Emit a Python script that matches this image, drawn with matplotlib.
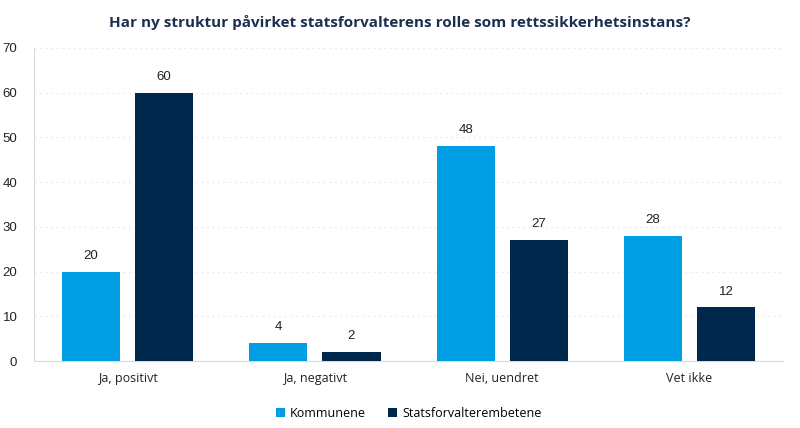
import matplotlib.pyplot as plt
import numpy as np

categories = ["Ja, positivt", "Ja, negativt", "Nei, uendret", "Vet ikke"]
kommunene = [20, 4, 48, 28]
statsforvalter = [60, 2, 27, 12]
series_names = ["Kommunene", "Statsforvalterembetene"]

light = "#009fe3"
dark = "#00284d"

fig = plt.figure(figsize=(8, 4.28), dpi=100)
ax = fig.add_axes([0.0425, 0.1565, 0.9365, 0.7315])

x = np.arange(len(categories))
w = 0.31
off = 0.195
b1 = ax.bar(x - off, kommunene, w, color=light, label=series_names[0], zorder=3)
b2 = ax.bar(x + off, statsforvalter, w, color=dark, label=series_names[1], zorder=3)

for bars in (b1, b2):
    for r in bars:
        ax.text(r.get_x() + r.get_width() / 2, r.get_height() + 2.2, f"{r.get_height():g}",
                ha="center", va="bottom", fontsize=9.5, family="Liberation Sans", color="#222222")

ax.set_xlim(-0.5, len(categories) - 0.5)
ax.set_ylim(0, 70)
ax.set_yticks(range(0, 71, 10))
ax.set_xticks(x)
ax.set_xticklabels(categories, family="Open Sans", fontsize=9, color="#222222")
for t in ax.get_yticklabels():
    t.set_family("Liberation Sans")
    t.set_fontsize(9.5)
    t.set_color("#222222")
ax.tick_params(length=0)
ax.tick_params(axis="y", pad=12)
ax.tick_params(axis="x", pad=8)
ax.yaxis.grid(True, linestyle=(0, (2, 3)), color="#ececec", linewidth=0.8, zorder=0)
for s in ("top", "right"):
    ax.spines[s].set_visible(False)
for s in ("left", "bottom"):
    ax.spines[s].set_color("#d9d9d9")

fig.suptitle("Har ny struktur påvirket statsforvalterens rolle som rettssikkerhetsinstans?",
             x=0.5, y=0.965, fontsize=11, fontweight="bold", color="#1b2f4f", family="Open Sans")

ax.legend(loc="upper center", bbox_to_anchor=(0.5, -0.11), ncol=2, frameon=False,
          handlelength=0.7, handleheight=0.7, columnspacing=1.8, handletextpad=0.4,
          prop={"family": "Open Sans", "size": 9})

fig.savefig("out.png", dpi=100)
